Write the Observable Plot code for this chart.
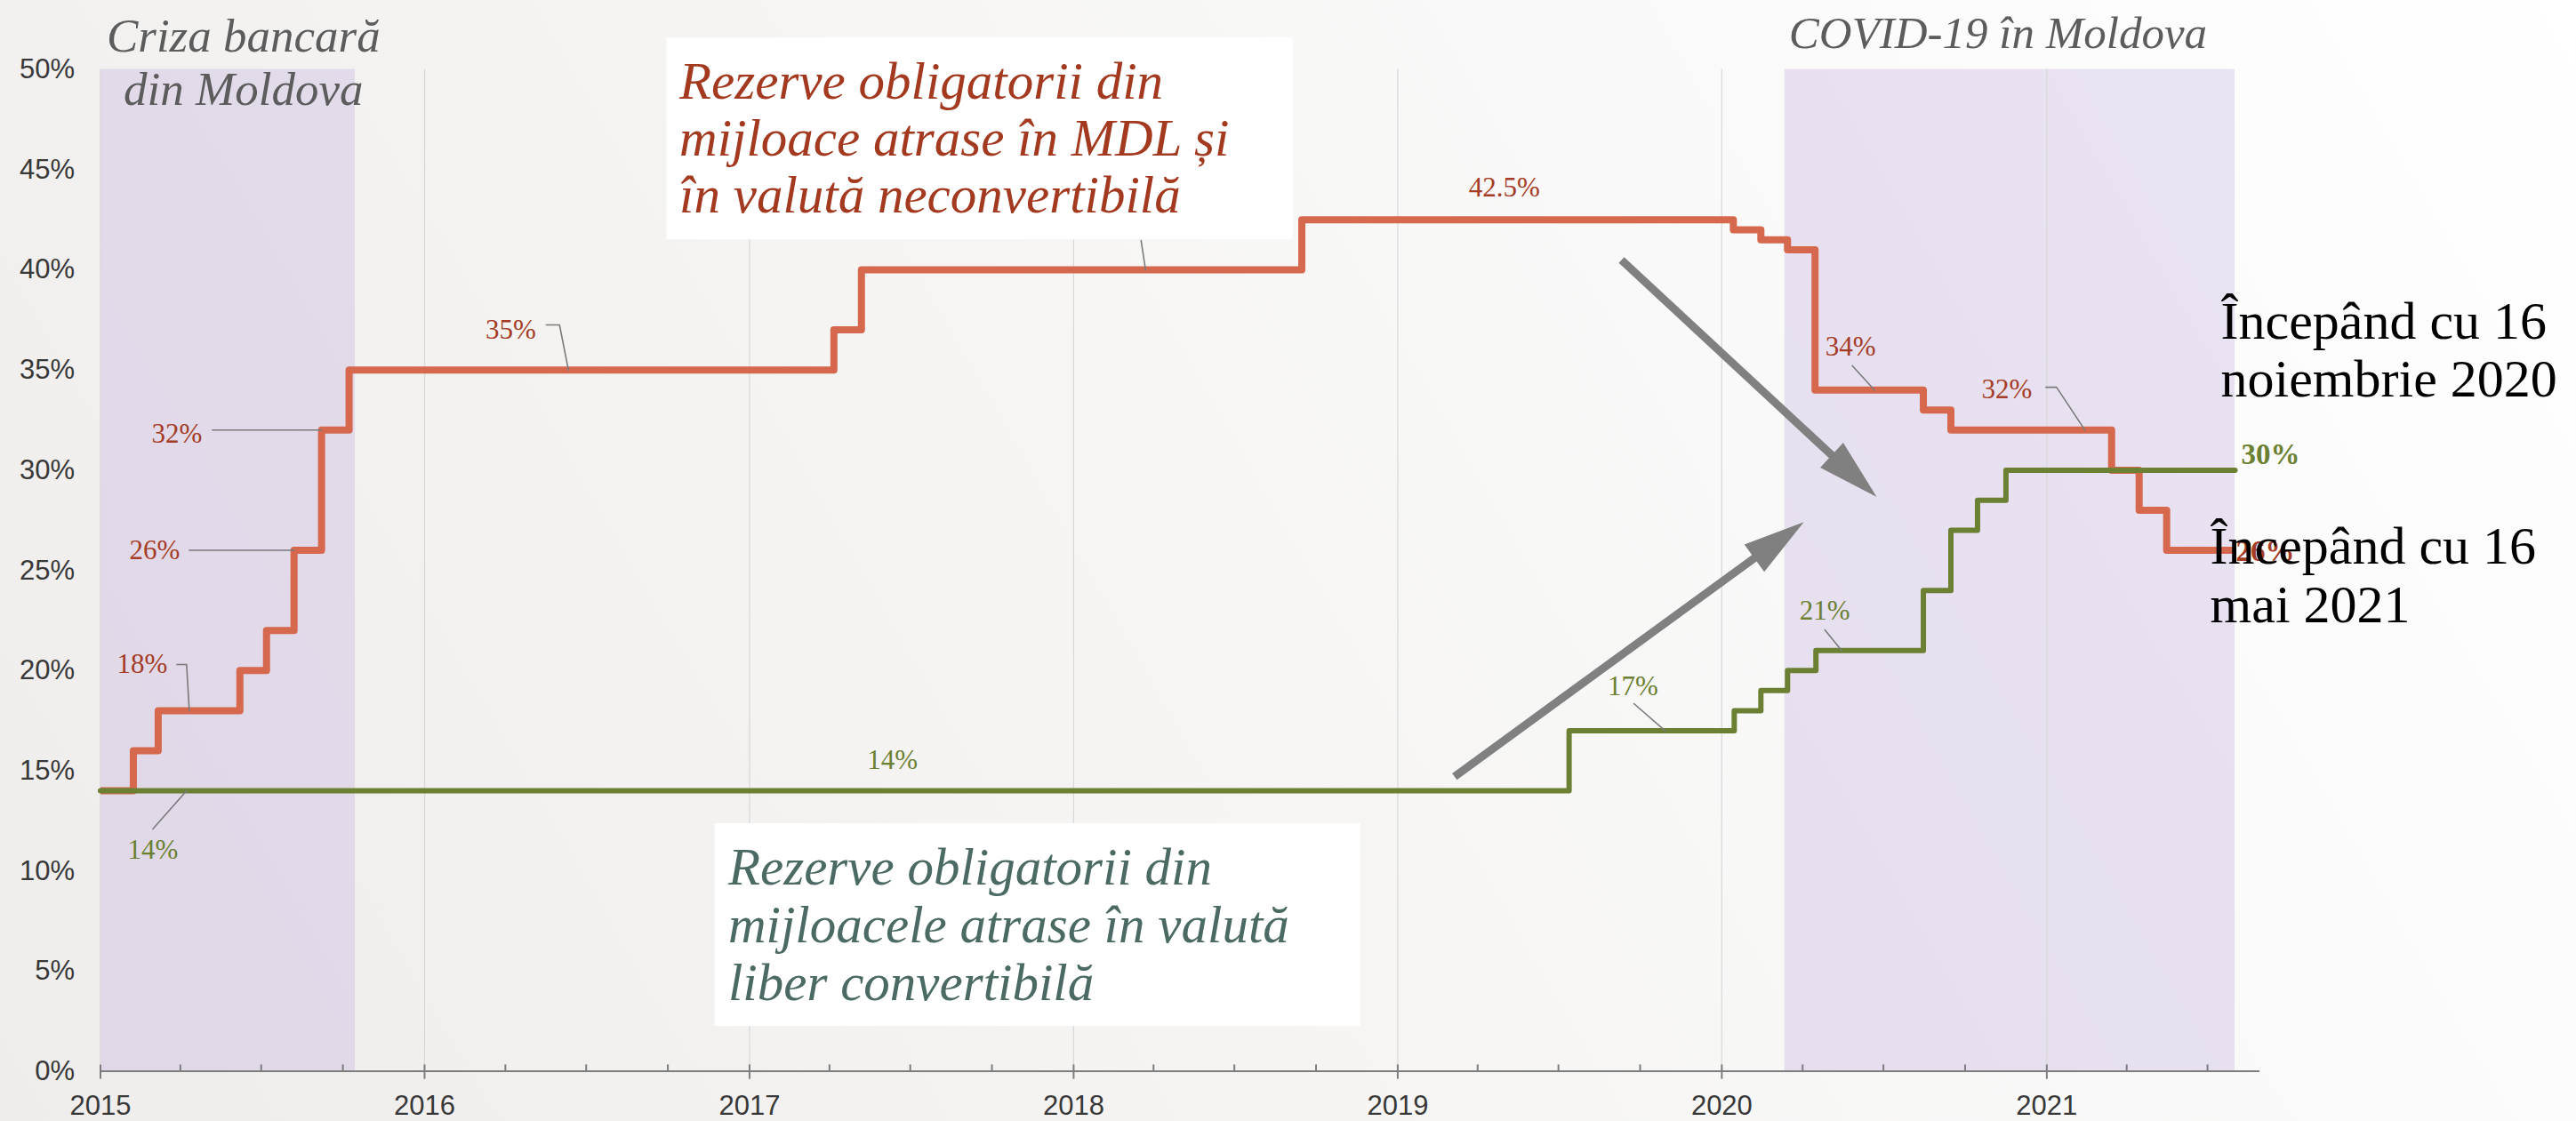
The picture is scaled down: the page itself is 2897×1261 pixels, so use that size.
<!DOCTYPE html>
<html><head><meta charset="utf-8">
<script src="https://cdn.jsdelivr.net/npm/d3@7"></script>
<script src="https://cdn.jsdelivr.net/npm/@observablehq/plot@0.6"></script>
<style>
html,body{margin:0;padding:0;}
body{width:2897px;height:1261px;overflow:hidden;background:linear-gradient(60deg,#efedec 0%,#f6f5f4 45%,#ffffff 100%);}
#chart svg{display:block;overflow:visible;}
</style></head><body><div id="chart"></div>
<script>
// ---- Data ----
const redDates = ["2015-01-01","2015-02-07","2015-03-07","2015-06-07","2015-07-07","2015-08-07","2015-09-07","2015-10-08","2017-04-06","2017-05-07","2018-09-15","2020-01-14","2020-02-14","2020-03-15","2020-04-15","2020-08-15","2020-09-15","2021-03-15","2021-04-15","2021-05-16","2021-08-01"];
const redValues = [14,16,18,20,22,26,32,35,37,40,42.5,42,41.5,41,34,33,32,30,28,26,26];
const greenDates = ["2015-01-01","2019-07-13","2020-01-15","2020-02-14","2020-03-15","2020-04-16","2020-08-15","2020-09-15","2020-10-15","2020-11-16","2021-08-01"];
const greenValues = [14,17,18,19,20,21,24,27,28.5,30,30];
const yearTicks = ["2015","2016","2017","2018","2019","2020","2021"];
const yTicks = [0,5,10,15,20,25,30,35,40,45,50];
const periodNames = ["Criza bancară\ndin Moldova","COVID-19 în Moldova"];
const periodStarts = ["2015-01-01","2020-03-12"];
const periodEnds = ["2015-10-15","2021-08-01"];
const seriesNames = ["Rezerve obligatorii din\nmijloace atrase în MDL și\nîn valută neconvertibilă","Rezerve obligatorii din\nmijloacele atrase în valută\nliber convertibilă"];
const changeNotes = ["Începând cu 16\nnoiembrie 2020","Începând cu 16\nmai 2021"];

// value labels placed near steps
const redLabels = [
  {date:"2015-02-17", v:19.86, t:"18%"},
  {date:"2015-03-03", v:25.54, t:"26%"},
  {date:"2015-03-28", v:31.39, t:"32%"},
  {date:"2016-04-07", v:36.58, t:"35%"},
  {date:"2019-05-01", v:43.68, t:"42.5%"},
  {date:"2020-05-25", v:35.70, t:"34%"},
  {date:"2020-11-17", v:33.61, t:"32%"}
];
const greenLabels = [
  {date:"2015-03-01", v:10.59, t:"14%"},
  {date:"2017-06-11", v:15.07, t:"14%"},
  {date:"2019-09-23", v:18.75, t:"17%"},
  {date:"2020-04-26", v:22.52, t:"21%"}
];
const leaders = [
  {id:"a", date:"2015-03-28", v:20.3},{id:"a", date:"2015-04-08", v:20.3},{id:"a", date:"2015-04-11", v:18},
  {id:"b", date:"2015-04-11", v:26},{id:"b", date:"2015-08-07", v:26},
  {id:"c", date:"2015-05-07", v:32},{id:"c", date:"2015-09-07", v:32},
  {id:"d", date:"2016-05-17", v:37.25},{id:"d", date:"2016-06-01", v:37.25},{id:"d", date:"2016-06-11", v:35},
  {id:"e", date:"2018-03-18", v:41.46},{id:"e", date:"2018-03-23", v:40},
  {id:"f", date:"2020-05-27", v:35.21},{id:"f", date:"2020-06-21", v:34},
  {id:"g", date:"2020-12-31", v:34.14},{id:"g", date:"2021-01-12", v:34.14},{id:"g", date:"2021-02-13", v:32},
  {id:"h", date:"2015-03-01", v:12.09},{id:"h", date:"2015-04-08", v:14},
  {id:"i", date:"2019-09-24", v:18.35},{id:"i", date:"2019-10-29", v:17},
  {id:"j", date:"2020-04-26", v:22.03},{id:"j", date:"2020-05-15", v:21}
];
const arrows = [
  {d1:"2019-09-10", v1:40.49, d2:"2020-05-06", v2:30.66},
  {d1:"2019-03-06", v1:14.71, d2:"2020-02-09", v2:25.69}
];
const boxes = [
  {d1:"2016-09-30", d2:"2018-09-05", v1:41.5, v2:51.57},
  {d1:"2016-11-23", d2:"2018-11-20", v1:2.24, v2:12.36}
];

// ---- Build tables ----
const D = s => new Date(s);
const red = redDates.map((d,i)=>({date:D(d), value:redValues[i]}));
const green = greenDates.map((d,i)=>({date:D(d), value:greenValues[i]}));
const periods = periodNames.map((n,i)=>({name:n, start:D(periodStarts[i]), end:D(periodEnds[i])}));
const years = yearTicks.map(y=>D(y+"-01-01"));
const quarters = [];
yearTicks.forEach(y=>["04","07","10"].forEach(m=>{const d=D(y+"-"+m+"-01"); if (d < D("2021-08-29")) quarters.push(d);}));
const lead = leaders.map(d=>({...d, date:D(d.date)}));
const rl = redLabels.map(d=>({...d, date:D(d.date)}));
const gl = greenLabels.map(d=>({...d, date:D(d.date)}));
const arr = arrows.map(d=>({x1:D(d.d1), y1:d.v1, x2:D(d.d2), y2:d.v2}));
const bx = boxes.map(d=>({x1:D(d.d1), x2:D(d.d2), y1:d.v1, y2:d.v2}));
const lastRed = red[red.length-1], lastGreen = green[green.length-1];

const serif = "Liberation Serif, Times New Roman, serif";
const arrowGray = "#808080";
const chart = Plot.plot({
  width: 2897, height: 1261,
  marginLeft: 112.5, marginRight: 356, marginTop: 77.6, marginBottom: 56.4,
  style: {background:"transparent", fontFamily:"Liberation Sans, Arial, sans-serif", fontSize:"31px", color:"#383838", overflow:"visible"},
  x: {type:"utc", domain:[D("2015-01-01"), D("2021-08-29")], ticks: years, tickFormat: d3.utcFormat("%Y"), tickSize:0, tickPadding:27, label:null},
  y: {domain:[0,50], ticks: yTicks, tickFormat: d=>d+"%", tickSize:0, tickPadding:29, label:null},
  marks: [
    Plot.rect(periods, {x1:"start", x2:"end", y1:0, y2:50, fill:"rgb(190,166,220)", fillOpacity:0.3}),
    Plot.ruleX(years, {y1:0, y2:50, stroke:"#d8d8d8", strokeWidth:1.2}),
    Plot.ruleY([0], {x1:D("2015-01-01"), x2:D("2021-08-29"), stroke:"#7d7d7d", strokeWidth:2}),
    Plot.ruleX(quarters, {y1:0, y2:0.32, stroke:"#7d7d7d", strokeWidth:2}),
    Plot.ruleX(years, {y1:-0.4, y2:0.32, stroke:"#7d7d7d", strokeWidth:2}),
    Plot.rect(bx, {x1:"x1", x2:"x2", y1:"y1", y2:"y2", fill:"white"}),
    Plot.line(red, {x:"date", y:"value", curve:"step-after", stroke:"#d6684e", strokeWidth:8, strokeLinejoin:"round", strokeLinecap:"butt"}),
    Plot.line(green, {x:"date", y:"value", curve:"step-after", stroke:"#6b8033", strokeWidth:6, strokeLinejoin:"round", strokeLinecap:"round"}),
    Plot.line(lead, {x:"date", y:"v", z:"id", stroke:"#7a7a7a", strokeWidth:1.6}),
    Plot.text(rl, {x:"date", y:"v", text:"t", lineAnchor:"bottom", fill:"#a53c26", fontFamily:serif, fontSize:31}),
    Plot.text(gl, {x:"date", y:"v", text:"t", lineAnchor:"bottom", fill:"#6b8033", fontFamily:serif, fontSize:31}),
    Plot.text([lastGreen], {x:"date", y:"value", text:d=>d.value+"%", dx:7, dy:-7, textAnchor:"start", lineAnchor:"bottom", fill:"#6b8033", fontWeight:"bold", fontFamily:serif, fontSize:33}),
    Plot.text([lastRed], {x:"date", y:"value", text:d=>d.value+"%", dx:1, dy:12, textAnchor:"start", lineAnchor:"bottom", fill:"#a53c26", fontWeight:"bold", fontFamily:serif, fontSize:33}),
    Plot.link(arr, {x1:"x1", y1:"y1", x2:"x2", y2:"y2", stroke:arrowGray, strokeWidth:9}),
    Plot.text([periods[0]], {x:D("2015-06-11"), y:48.24, text:"name", textAnchor:"middle", lineAnchor:"bottom", lineHeight:1.135, fontStyle:"italic", fill:"#5c5c5c", fontFamily:serif, fontSize:53}),
    Plot.text([periods[1]], {x:D("2020-11-07"), y:51.09, text:"name", textAnchor:"middle", lineAnchor:"bottom", fontStyle:"italic", fill:"#5c5c5c", fontFamily:serif, fontSize:51}),
    Plot.text([seriesNames[0]], {x:D("2016-10-14"), y:42.88, text:d=>d, textAnchor:"start", lineAnchor:"bottom", lineHeight:1.083, fontStyle:"italic", fill:"#a3391f", fontFamily:serif, fontSize:59}),
    Plot.text([seriesNames[1]], {x:D("2016-12-08"), y:3.57, text:d=>d, textAnchor:"start", lineAnchor:"bottom", lineHeight:1.1, fontStyle:"italic", fill:"#4b6a64", fontFamily:serif, fontSize:59}),
    Plot.text([changeNotes[0]], {x:D("2021-07-16"), y:33.70, text:d=>d, textAnchor:"start", lineAnchor:"bottom", lineHeight:1.083, fill:"#000", fontFamily:serif, fontSize:60}),
    Plot.text([changeNotes[1]], {x:D("2021-07-04"), y:22.43, text:d=>d, textAnchor:"start", lineAnchor:"bottom", lineHeight:1.1, fill:"#000", fontFamily:serif, fontSize:60})
  ]
});
document.getElementById("chart").appendChild(chart);

// filled arrowheads for the big arrows
const svg = chart.tagName.toLowerCase() === "svg" ? chart : chart.querySelector("svg");
const ns = "http://www.w3.org/2000/svg";
const defs = document.createElementNS(ns, "defs");
const marker = document.createElementNS(ns, "marker");
marker.setAttribute("id", "ah");
marker.setAttribute("markerUnits", "userSpaceOnUse");
marker.setAttribute("markerWidth", "72");
marker.setAttribute("markerHeight", "40");
marker.setAttribute("viewBox", "0 0 72 40");
marker.setAttribute("refX", "3");
marker.setAttribute("refY", "20");
marker.setAttribute("orient", "auto");
marker.setAttribute("overflow", "visible");
const mp = document.createElementNS(ns, "path");
mp.setAttribute("d", "M0,1L69,20L0,39Z");
mp.setAttribute("fill", arrowGray);
mp.setAttribute("stroke", "none");
marker.appendChild(mp);
defs.appendChild(marker);
svg.insertBefore(defs, svg.firstChild);
svg.querySelectorAll("g").forEach(g => {
  if ((g.getAttribute("stroke") || "").toLowerCase() === arrowGray && g.getAttribute("stroke-width") === "9") {
    g.querySelectorAll("path, line").forEach(p => p.setAttribute("marker-end", "url(#ah)"));
  }
});
</script>
</body></html>
